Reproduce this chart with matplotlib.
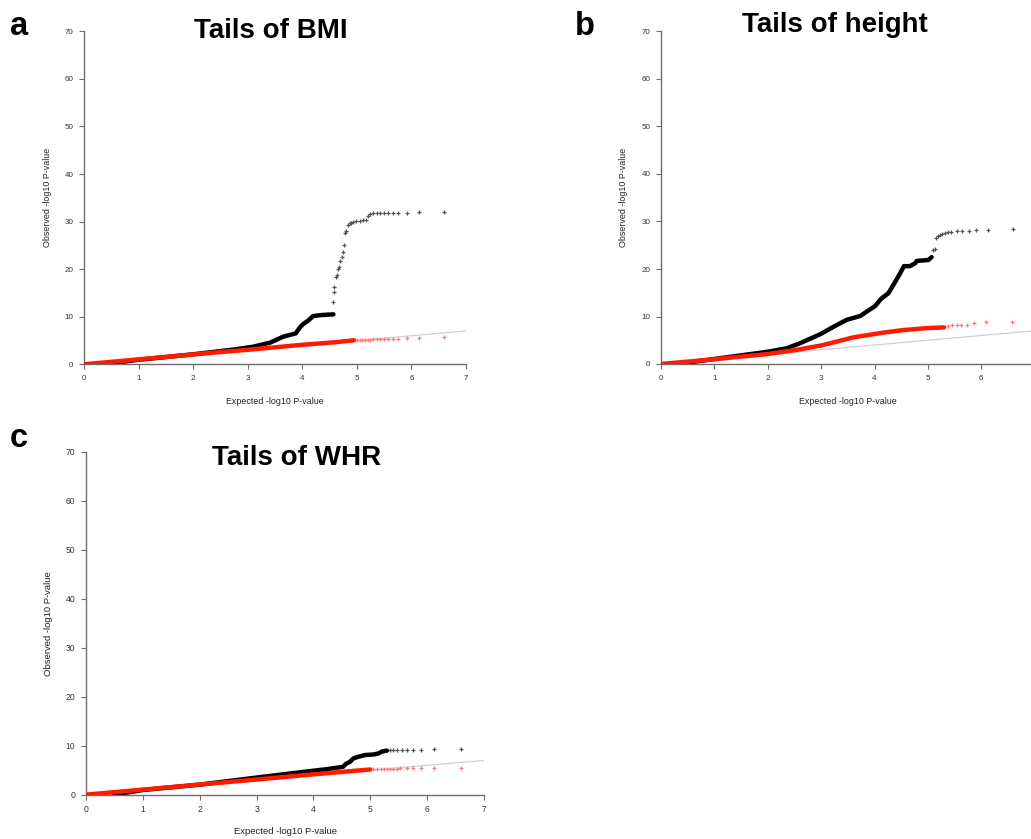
import matplotlib.pyplot as plt

plt.rcParams['font.family'] = ['Liberation Sans', 'DejaVu Sans']

W, H = 1031, 839

# --- Tails of BMI ---
bmi_obs_x = [0.35, 1.0, 2.0, 2.74, 3.1, 3.41, 3.65, 3.88, 3.96, 4.02, 4.11, 4.2, 4.35, 4.57]
bmi_obs_y = [0.0, 0.95, 2.1, 3.1, 3.7, 4.55, 5.8, 6.5, 7.8, 8.5, 9.2, 10.15, 10.35, 10.5]
bmi_obs_tail_x = [4.57, 4.58, 4.59, 4.62, 4.63, 4.65, 4.67, 4.69, 4.72, 4.74, 4.76, 4.79, 4.81,
                  4.84, 4.87, 4.90, 4.93, 4.99, 5.06, 5.12, 5.17, 5.21, 5.24, 5.30, 5.36, 5.43,
                  5.49, 5.57, 5.66, 5.76, 5.91, 6.13, 6.60]
bmi_obs_tail_y = [13.2, 15.1, 16.3, 18.3, 18.7, 20.0, 20.4, 21.8, 22.5, 23.7, 25.1, 27.7, 28.0,
                  29.3, 29.6, 29.8, 29.9, 30.1, 30.2, 30.3, 30.3, 31.2, 31.6, 31.7, 31.7, 31.8,
                  31.8, 31.9, 31.9, 31.9, 31.9, 32.0, 32.1]
bmi_adj_x = [0.0, 2.13, 3.1, 4.0, 4.57, 4.95]
bmi_adj_y = [0.0, 2.2, 3.15, 4.1, 4.6, 5.05]
bmi_adj_tail_x = [5.0, 5.05, 5.1, 5.15, 5.2, 5.25, 5.3, 5.36, 5.43, 5.49, 5.57, 5.66, 5.76,
                  5.91, 6.13, 6.60]
bmi_adj_tail_y = [5.08, 5.1, 5.12, 5.15, 5.17, 5.2, 5.22, 5.25, 5.28, 5.3, 5.35, 5.38, 5.42,
                  5.5, 5.55, 5.8]

# --- Tails of height ---
ht_obs_x = [0.3, 1.0, 2.01, 2.35, 2.6, 2.98, 3.29, 3.48, 3.73, 3.85, 4.01, 4.13, 4.26, 4.35,
            4.46, 4.55, 4.66, 4.76, 4.79, 5.01, 5.07]
ht_obs_y = [0.0, 1.05, 2.6, 3.3, 4.35, 6.25, 8.2, 9.3, 10.1, 11.0, 12.2, 13.8, 14.9, 16.6,
            18.7, 20.6, 20.6, 21.2, 21.7, 21.9, 22.5]
ht_obs_tail_x = [5.10, 5.13, 5.15, 5.19, 5.22, 5.26, 5.32, 5.38, 5.44, 5.54, 5.64, 5.76, 5.90,
                 6.12, 6.60]
ht_obs_tail_y = [24.1, 24.2, 26.6, 26.9, 27.1, 27.4, 27.6, 27.8, 27.8, 27.9, 28.0, 28.1, 28.2,
                 28.3, 28.5]
ht_adj_x = [0.0, 1.0, 2.0, 2.5, 3.0, 3.6, 4.16, 4.54, 4.98, 5.3]
ht_adj_y = [0.0, 1.0, 2.1, 2.9, 3.9, 5.6, 6.6, 7.15, 7.55, 7.7]
ht_adj_tail_x = [5.38, 5.46, 5.54, 5.62, 5.74, 5.87, 6.09, 6.57]
ht_adj_tail_y = [8.0, 8.2, 8.2, 8.25, 8.3, 8.55, 8.9, 8.9]

# --- Tails of WHR ---
whr_obs_x = [0.5, 1.0, 2.0, 3.0, 4.0, 4.23, 4.35, 4.52, 4.57, 4.64, 4.70, 4.79, 4.91, 5.05,
             5.14, 5.20, 5.29]
whr_obs_y = [0.0, 0.95, 2.05, 3.5, 4.9, 5.2, 5.4, 5.7, 6.3, 6.7, 7.4, 7.75, 8.1, 8.2,
             8.4, 8.8, 9.0]
whr_obs_tail_x = [5.34, 5.40, 5.46, 5.55, 5.64, 5.74, 5.89, 6.12, 6.59]
whr_obs_tail_y = [9.1, 9.2, 9.2, 9.2, 9.2, 9.2, 9.2, 9.25, 9.3]
whr_adj_x = [0.0, 3.0, 4.0, 5.0]
whr_adj_y = [0.0, 3.1, 4.15, 5.15]
whr_adj_tail_x = [5.05, 5.12, 5.18, 5.24, 5.29, 5.34, 5.40, 5.46, 5.52, 5.64, 5.74, 5.89,
                  6.12, 6.59]
whr_adj_tail_y = [5.18, 5.2, 5.22, 5.23, 5.24, 5.27, 5.3, 5.32, 5.35, 5.45, 5.5, 5.52,
                  5.52, 5.52]

x_ticks = [0, 1, 2, 3, 4, 5, 6, 7]
y_ticks = [0, 10, 20, 30, 40, 50, 60, 70]


def qq_panel(fig, box, obs, obs_tail, adj, adj_tail, fs, xt):
    # box = pixel positions of x=0, x=7, y=70, y=0
    x0, x7, y70, y0 = box
    ax = fig.add_axes([x0 / W, 1 - y0 / H, (x7 - x0) / W, (y0 - y70) / H])
    ax.plot([0, 7], [0, 7], color='#cfcfcf', lw=0.9, zorder=1)
    ax.plot(obs[0], obs[1], color='black', lw=3.2, solid_capstyle='round', zorder=2)
    ax.plot(obs_tail[0], obs_tail[1], ls='none', marker='+', ms=2.6, mew=0.9,
            color='#555555', zorder=2)
    ax.plot(adj[0], adj[1], color='#ff1a00', lw=3.2, solid_capstyle='round', zorder=3)
    ax.plot(adj_tail[0], adj_tail[1], ls='none', marker='+', ms=2.6, mew=0.9,
            color='#ff7a7a', zorder=3)

    ax.set_xlim(0, 7)
    ax.set_ylim(0, 70)
    ax.set_xticks(xt)
    ax.set_yticks(y_ticks)
    for s in ['top', 'right']:
        ax.spines[s].set_visible(False)
    for s in ['left', 'bottom']:
        ax.spines[s].set_color('#6e6e6e')
        ax.spines[s].set_linewidth(1.0)
    ax.tick_params(length=3.6, width=0.8, color='#6e6e6e', labelsize=fs,
                   labelcolor='#333333', pad=4)

    w_px, h_px = x7 - x0, y0 - y70
    ax.set_xlabel('Expected -log10 P-value', fontsize=fs + 0.6, color='#222222')
    ax.set_ylabel('Observed -log10 P-value', fontsize=fs + 0.6, color='#222222')
    ax.xaxis.label.set_va('center')
    ax.yaxis.label.set_va('center')
    ax.xaxis.set_label_coords(0.5, -37 / h_px)
    ax.yaxis.set_label_coords(-37 / w_px, 0.5)
    return ax


fig = plt.figure(figsize=(W / 100, H / 100), dpi=100)

qq_panel(fig, (84, 466, 31.3, 364.3), (bmi_obs_x, bmi_obs_y), (bmi_obs_tail_x, bmi_obs_tail_y),
         (bmi_adj_x, bmi_adj_y), (bmi_adj_tail_x, bmi_adj_tail_y), 5.8, x_ticks)
# the height panel runs past the right edge, so its last tick falls outside
qq_panel(fig, (661, 1034.7, 31.5, 364), (ht_obs_x, ht_obs_y), (ht_obs_tail_x, ht_obs_tail_y),
         (ht_adj_x, ht_adj_y), (ht_adj_tail_x, ht_adj_tail_y), 5.8, x_ticks[:-1])
qq_panel(fig, (85.7, 484.3, 451.7, 794.7), (whr_obs_x, whr_obs_y), (whr_obs_tail_x, whr_obs_tail_y),
         (whr_adj_x, whr_adj_y), (whr_adj_tail_x, whr_adj_tail_y), 6.2, x_ticks)

# titles and panel letters
titles = [('Tails of BMI', 271, 38.3), ('Tails of height', 835, 31.7), ('Tails of WHR', 296.5, 465)]
for t, x, y in titles:
    fig.text(x / W, 1 - y / H, t, ha='center', va='baseline', fontsize=20, fontweight='bold')

letters = [('a', 10, 35), ('b', 575, 35), ('c', 10, 447)]
for t, x, y in letters:
    fig.text(x / W, 1 - y / H, t, ha='left', va='baseline', fontsize=23.5, fontweight='bold')

fig.savefig('out.png', dpi=100)
